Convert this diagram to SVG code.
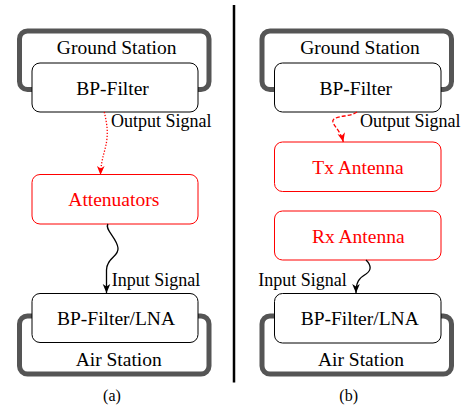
<svg xmlns="http://www.w3.org/2000/svg" width="467" height="409" viewBox="0 0 467 409">
<style>
.frame{fill:none;stroke:#555;stroke-width:5}
.box{fill:#fff;stroke:#000;stroke-width:1}
.rbox{fill:#fff;stroke:#f00;stroke-width:1}
text{font-family:'Liberation Serif','Times New Roman',Times,serif}
.t{font-size:19.5px;fill:#000;text-anchor:middle}
.rt{font-size:19.5px;fill:#f00;text-anchor:middle}
.lbl{font-size:18px;fill:#000}
.cap{font-size:16px;fill:#000;text-anchor:middle}
.cb{fill:none;stroke:#000;stroke-width:1.3}
.cr{fill:none;stroke:#f00;stroke-width:1.3}
</style>
<defs>
<marker id="ab" markerUnits="userSpaceOnUse" markerWidth="12" markerHeight="12" viewBox="-10 -5 12 10" refX="0" refY="0" orient="auto">
<path d="M0,0 L-9,-3.8 L-6.5,0 L-9,3.8 z" fill="#000"/>
</marker>
<marker id="ar" markerUnits="userSpaceOnUse" markerWidth="12" markerHeight="12" viewBox="-10 -5 12 10" refX="0" refY="0" orient="auto">
<path d="M0,0 L-9,-3.8 L-6.5,0 L-9,3.8 z" fill="#f00"/>
</marker>
</defs>
<rect width="467" height="409" fill="#fff"/>
<line x1="234" y1="5" x2="234" y2="382.5" stroke="#000" stroke-width="2.5"/>

<g id="groundA">
<rect class="frame" x="19.5" y="31" width="189.5" height="58.5" rx="8"/>
<text class="t" x="116.7" y="54.3" font-family="Liberation Serif, serif">Ground Station</text>
</g>
<g id="bpfA">
<rect class="box" x="32" y="63" width="166" height="49" rx="8"/>
<text class="t" x="112.5" y="95">BP-Filter</text>
</g>
<g id="attA">
<rect class="rbox" x="32" y="174.5" width="166" height="49.5" rx="8"/>
<text class="rt" x="113.8" y="206">Attenuators</text>
</g>
<g id="airA">
<rect class="frame" x="19.5" y="316" width="189.5" height="58" rx="8"/>
<text class="t" x="118.7" y="365.7">Air Station</text>
</g>
<g id="lnaA">
<rect class="box" x="32" y="293.5" width="166" height="49" rx="8"/>
<text class="t" x="116" y="325">BP-Filter/LNA</text>
</g>

<g id="groundB">
<rect class="frame" x="262" y="31" width="189.5" height="58.5" rx="8"/>
<text class="t" x="360" y="54.3">Ground Station</text>
</g>
<g id="bpfB">
<rect class="box" x="274.5" y="63" width="166.5" height="49" rx="8"/>
<text class="t" x="355.8" y="95">BP-Filter</text>
</g>
<g id="txB">
<rect class="rbox" x="274.5" y="142" width="166.5" height="49.5" rx="8"/>
<text class="rt" x="358" y="174">Tx Antenna</text>
</g>
<g id="rxB">
<rect class="rbox" x="274.5" y="211" width="166.5" height="49" rx="8"/>
<text class="rt" x="358.3" y="243.3">Rx Antenna</text>
</g>
<g id="airB">
<rect class="frame" x="262" y="316" width="189.5" height="58" rx="8"/>
<text class="t" x="361" y="365.7">Air Station</text>
</g>
<g id="lnaB">
<rect class="box" x="274.5" y="293.5" width="166.5" height="49.5" rx="8"/>
<text class="t" x="359.7" y="325">BP-Filter/LNA</text>
</g>

<g id="connectors">
<path class="cr" stroke-dasharray="1.3 1.7" d="M104.3,112 C106,120 108,128 107,138 C106,150 101,158 100.5,175" marker-end="url(#ar)"/>
<text class="lbl" x="111" y="127.3">Output Signal</text>
<path class="cb" d="M108,224 C104,229 117,238 118,248 C119,257 107,257 106.5,270 L106.5,293" marker-end="url(#ab)"/>
<text class="lbl" x="111.7" y="286">Input Signal</text>
<path class="cr" stroke-dasharray="4 2" d="M357,112 C350,117 340,115 334,119 C329,123 340,128 343.3,142" marker-end="url(#ar)"/>
<text class="lbl" x="360" y="127.3">Output Signal</text>
<path class="cb" d="M366,260 C371,265 372,270 366,274 C359,278 356,282 356,293" marker-end="url(#ab)"/>
<text class="lbl" x="258.3" y="286">Input Signal</text>
</g>

<text class="cap" x="112" y="400.5">(a)</text>
<text class="cap" x="348.7" y="400.5">(b)</text>
</svg>
